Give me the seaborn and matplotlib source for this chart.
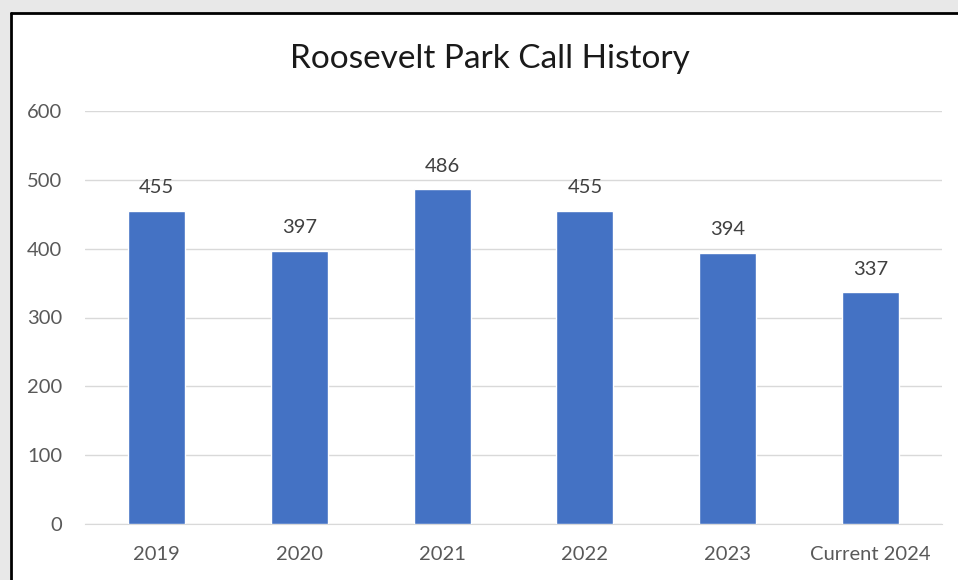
import matplotlib.pyplot as plt
import matplotlib.patches as mpatches
import pandas as pd
import seaborn as sns

# data
years = ['2019', '2020', '2021', '2022', '2023', 'Current 2024']
calls = [455, 397, 486, 455, 394, 337]
y_ticks = [0, 100, 200, 300, 400, 500, 600]

df = pd.DataFrame({'year': years, 'calls': calls})

sns.set_style('white')
plt.rcParams['font.family'] = ['Lato', 'DejaVu Sans']

W, H = 958, 580
fig = plt.figure(figsize=(W / 100, H / 100), dpi=100, facecolor='#e8e8e8')

# white chart area with dark frame on left / top (screenshot look)
fig.patches.append(mpatches.Rectangle((10 / W, 0), 1 - 10 / W, 1 - 13 / H,
                                      transform=fig.transFigure, facecolor='white',
                                      edgecolor='none', zorder=-5))
fig.add_artist(plt.Line2D([10.5 / W, 10.5 / W], [0, 1 - 12.5 / H],
                          transform=fig.transFigure, color='black', lw=2))
fig.add_artist(plt.Line2D([10.5 / W, 1], [1 - 12.5 / H, 1 - 12.5 / H],
                          transform=fig.transFigure, color='black', lw=2))

ax = fig.add_axes([85 / W, 56 / H, (942 - 85) / W, (524 - 111) / H])
ax.set_facecolor('none')
ax.set_zorder(2)

sns.barplot(data=df, x='year', y='calls', ax=ax, color='#4472C4',
            width=0.4, saturation=1, zorder=3)

for i, v in enumerate(calls):
    ax.annotate(f'{v}', (i, v), xytext=(0, 16.5), textcoords='offset points',
                ha='center', va='center', fontsize=14.5, color='#404040')

ax.set_ylim(0, 600)
ax.set_xlim(-0.5, len(years) - 0.5)
ax.set_yticks(y_ticks)
ax.yaxis.grid(True, color='#d9d9d9', lw=1, zorder=0)
ax.set_axisbelow(True)
for s in ['top', 'right', 'left']:
    ax.spines[s].set_visible(False)
ax.spines['bottom'].set_color('#d9d9d9')
ax.tick_params(axis='both', length=0, labelsize=14.5, labelcolor='#595959')
ax.tick_params(axis='y', pad=16.5)
ax.tick_params(axis='x', pad=16)
ax.set_xlabel('')
ax.set_ylabel('')

fig.text(490 / W, 1 - 59 / H, 'Roosevelt Park Call History', ha='center', va='center',
         fontsize=24, color='#1a1a1a')

fig.savefig('out.png', dpi=100, facecolor=fig.get_facecolor())
